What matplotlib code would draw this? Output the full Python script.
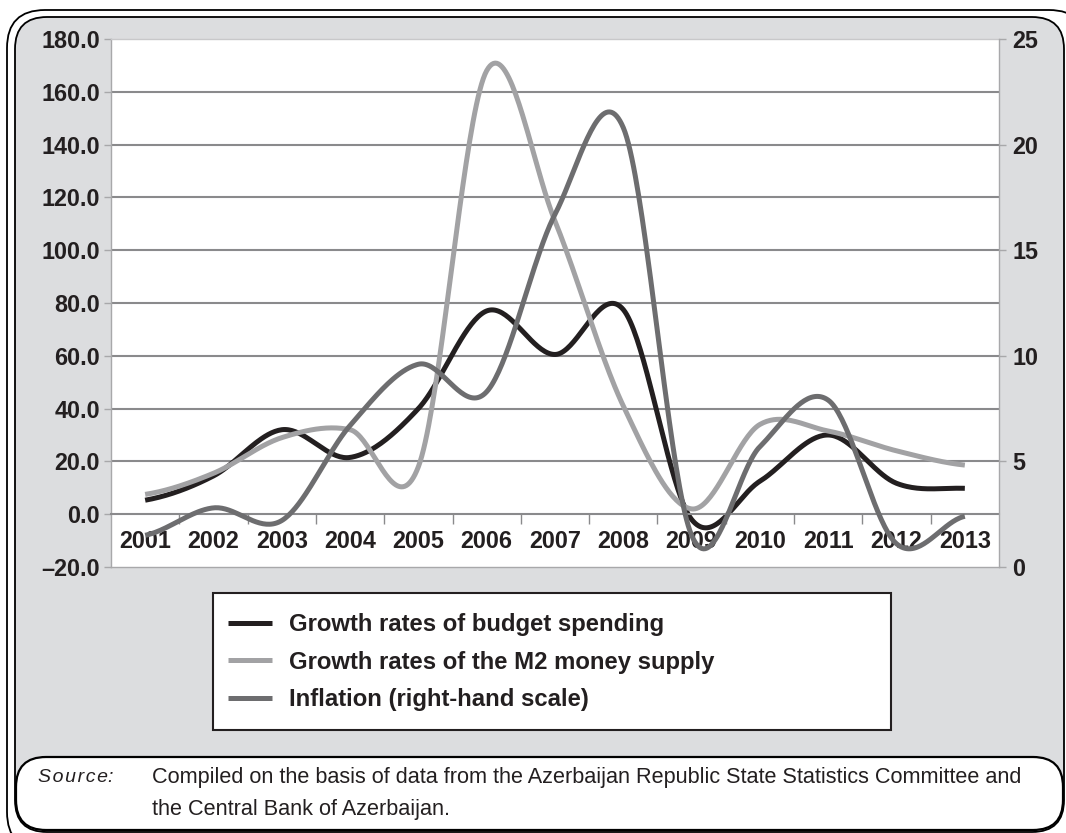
import numpy as np
import matplotlib
matplotlib.use("Agg")
import matplotlib.pyplot as plt
from matplotlib.patches import FancyBboxPatch, Rectangle
from matplotlib.ticker import FixedLocator

plt.rcParams["font.family"] = ["Liberation Sans", "DejaVu Sans"]

years = ["2001", "2002", "2003", "2004", "2005", "2006", "2007",
         "2008", "2009", "2010", "2011", "2012", "2013"]
budget = [5.3, 14.5, 32.0, 21.5, 40.0, 77.0, 60.5, 77.5, -2.0, 12.5, 30.0, 11.7, 9.8]
m2 = [7.5, 15.5, 29.0, 32.0, 18.0, 168.0, 111.0, 41.0, 2.0, 34.0, 31.5, 24.0, 18.6]
inflation = [1.5, 2.8, 2.2, 6.7, 9.6, 8.3, 16.7, 20.8, 1.5, 5.7, 7.9, 1.1, 2.4]

left_ticks = [-20, 0, 20, 40, 60, 80, 100, 120, 140, 160, 180]
right_ticks = [0, 5, 10, 15, 20, 25]

DARK = "#231f20"
C_BUDGET = "#231f20"
C_M2 = "#a2a2a4"
C_INFL = "#6d6d6f"
GRID = "#8a8a8c"
FRAME = "#a8a8aa"
BG = "#dcdddf"
W, H = 1066, 833


def smooth(vals, n=40):
    """Catmull-Rom curve through evenly spaced points (Excel-style smoothed line)."""
    y = np.asarray(vals, float)
    p = np.concatenate([[y[0]], y, [y[-1]]])
    xs, ys = [], []
    t = np.linspace(0, 1, n, endpoint=False)
    for i in range(len(y) - 1):
        p0, p1, p2, p3 = p[i:i + 4]
        seg = 0.5 * (2 * p1 + (p2 - p0) * t
                     + (2 * p0 - 5 * p1 + 4 * p2 - p3) * t ** 2
                     + (3 * p1 - p0 - 3 * p2 + p3) * t ** 3)
        xs.append(i + t)
        ys.append(seg)
    xs.append([len(y) - 1])
    ys.append([y[-1]])
    return np.concatenate(xs), np.concatenate(ys)


fig = plt.figure(figsize=(W / 100, H / 100), dpi=100)

# decorative frame in pixel coordinates
bg = fig.add_axes([0, 0, 1, 1], zorder=-5)
bg.set_xlim(0, W)
bg.set_ylim(H, 0)
bg.axis("off")
bg.add_patch(FancyBboxPatch((7, 10), 1080, 840, boxstyle="round,pad=0,rounding_size=38",
                            fc="white", ec="black", lw=1.3))
bg.add_patch(FancyBboxPatch((15, 17), 1049, 815, boxstyle="round,pad=0,rounding_size=32",
                            fc=BG, ec="black", lw=1.3))
bg.add_patch(FancyBboxPatch((16, 757), 1047, 73, boxstyle="round,pad=0,rounding_size=30",
                            fc="white", ec="black", lw=1.6))
bg.add_patch(Rectangle((213, 593), 678, 137, fc="white", ec=DARK, lw=1.5))
bg.text(38, 778, "S\u200ao\u200au\u200ar\u200ac\u200ae:", style="italic", fontsize=14,
        color=DARK, va="center")
bg.text(152, 778, "Compiled on the basis of data from the Azerbaijan Republic State Statistics Committee and",
        fontsize=15.6, color=DARK, va="center")
bg.text(152, 810, "the Central Bank of Azerbaijan.", fontsize=15.6, color=DARK, va="center")

ax = fig.add_axes([111 / W, 1 - 567 / H, 888 / W, 528 / H])
ax.set_facecolor("white")
x = np.arange(len(years))

xs, yb = smooth(budget)
ax.plot(xs, yb, color=C_BUDGET, lw=3.6, solid_capstyle="butt",
        label="Growth rates of budget spending")
xs, ym = smooth(m2)
ax.plot(xs, ym, color=C_M2, lw=3.6, solid_capstyle="butt",
        label="Growth rates of the M2 money supply")

ax.set_xlim(-0.5, len(years) - 0.5)
ax.set_ylim(-20, 180)
ax.yaxis.set_major_locator(FixedLocator(left_ticks))
ax.set_yticklabels([f"{v:.1f}".replace("-", "\u2013") for v in left_ticks])
ax.yaxis.grid(True, color=GRID, lw=1.5)
for gl, v in zip(ax.yaxis.get_gridlines(), left_ticks):
    if v in (-20, 0, 180):
        gl.set_visible(False)
ax.set_axisbelow(True)

# category axis sits on the zero line
ax.spines["bottom"].set_position(("data", 0))
ax.spines["bottom"].set_color(GRID)
ax.spines["bottom"].set_linewidth(1.5)
ax.spines["left"].set_color(FRAME)
ax.spines["top"].set_color("#c8c8ca")
ax.spines["right"].set_visible(False)
for s in ("left", "top"):
    ax.spines[s].set_linewidth(1.0)

ax.set_xticks(x)
ax.set_xticklabels(years)
ax.set_xticks(x[:-1] + 0.5, minor=True)
ax.tick_params(axis="x", which="major", length=0, pad=11.5,
               labelsize=16.8, labelcolor=DARK)
ax.tick_params(axis="x", which="minor", length=7, width=1, color=GRID, direction="out")
ax.tick_params(axis="y", length=5, width=1, color=FRAME, pad=3,
               labelsize=16.8, labelcolor=DARK)
for lab in ax.get_xticklabels() + ax.get_yticklabels():
    lab.set_fontweight("bold")

ax2 = ax.twinx()
xs, yi = smooth(inflation)
ax2.plot(xs, yi, color=C_INFL, lw=3.6, solid_capstyle="butt",
         label="Inflation (right-hand scale)")
ax2.set_ylim(0, 25)
ax2.yaxis.set_major_locator(FixedLocator(right_ticks))
ax2.set_yticklabels([str(v) for v in right_ticks])
ax2.tick_params(axis="y", length=5, width=1, color=FRAME, pad=4.5,
                labelsize=16.8, labelcolor=DARK)
for lab in ax2.get_yticklabels():
    lab.set_fontweight("bold")
ax2.spines["left"].set_visible(False)
ax2.spines["top"].set_visible(False)
ax2.spines["right"].set_color(FRAME)
ax2.spines["bottom"].set_color(FRAME)
for s in ("right", "bottom"):
    ax2.spines[s].set_linewidth(1.0)

handles = ax.get_lines() + ax2.get_lines()
leg = fig.legend(handles, [h.get_label() for h in handles], loc="upper left",
                 bbox_to_anchor=(206 / W, 1 - 592 / H), frameon=False,
                 prop={"size": 17.2, "weight": "bold"}, handlelength=1.86,
                 handletextpad=0.72, labelspacing=0.6)
for t in leg.get_texts():
    t.set_color(DARK)

fig.savefig("out.png", dpi=100)
